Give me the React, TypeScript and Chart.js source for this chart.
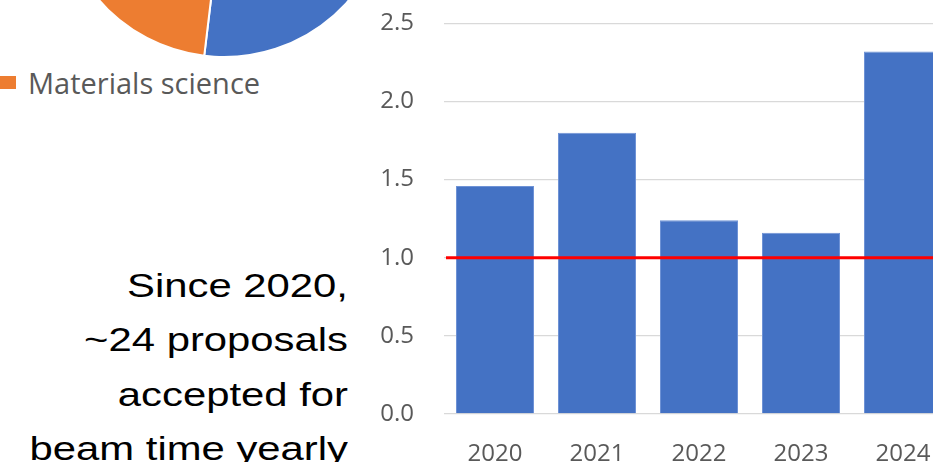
import React, { useEffect, useRef } from "react";
import { Chart, registerables } from "chart.js";

Chart.register(...registerables);

// ---- data ----
const years = ["2020", "2021", "2022", "2023", "2024"];
const ratioValues = [1.46, 1.8, 1.24, 1.16, 2.32];
const thresholdValue = 1.0;
const yMin = 0;
const yMax = 2.5;
const yStep = 0.5;

const pieLabels = ["Other", "Materials science"];
const pieShares = [51.9, 48.1];
const pieColors = ["#4472C4", "#ED7D31"];

const legendLabel = "Materials science";
const noteLines = ["Since 2020,", "~24 proposals", "accepted for", "beam time yearly"];

const thresholdPlugin = {
  id: "thresholdLine",
  afterDatasetsDraw(chart: any) {
    const { ctx, chartArea, scales } = chart;
    const y = scales.y.getPixelForValue(thresholdValue);
    ctx.save();
    ctx.strokeStyle = "#FF0000";
    ctx.lineWidth = 3;
    ctx.beginPath();
    ctx.moveTo(chartArea.left + 2, y);
    ctx.lineTo(chartArea.right, y);
    ctx.stroke();
    ctx.restore();
  },
};

export default function App() {
  const barRef = useRef<HTMLCanvasElement>(null);
  const pieRef = useRef<HTMLCanvasElement>(null);

  useEffect(() => {
    const bar = new Chart(barRef.current!, {
      type: "bar",
      data: {
        labels: years,
        datasets: [
          {
            data: ratioValues,
            backgroundColor: "#4472C4",
            borderColor: "#6F93D6",
            borderWidth: 1,
            categoryPercentage: 1,
            barPercentage: 0.765,
          },
        ],
      },
      options: {
        responsive: false,
        animation: false,
        layout: { padding: { top: 0, right: 106, left: 0, bottom: 0 } },
        plugins: { legend: { display: false }, tooltip: { enabled: false } },
        scales: {
          x: {
            grid: { display: false, drawTicks: false },
            border: { display: false },
            ticks: {
              color: "#595959",
              font: { family: "'Open Sans'", size: 24 },
              padding: 26,
              maxRotation: 0,
              autoSkip: false,
            },
            afterFit(scale: any) {
              scale.height = 86;
            },
          },
          y: {
            min: yMin,
            max: yMax,
            grid: { color: "#D9D9D9", lineWidth: 1.3, drawTicks: false },
            border: { display: false },
            ticks: {
              stepSize: yStep,
              color: "#595959",
              font: { family: "'Open Sans'", size: 24 },
              padding: 30,
              callback: (v: any) => Number(v).toFixed(1),
            },
            afterFit(scale: any) {
              scale.width = 84;
            },
          },
        },
      },
      plugins: [thresholdPlugin],
    });

    const pie = new Chart(pieRef.current!, {
      type: "pie",
      data: {
        labels: pieLabels,
        datasets: [
          {
            data: pieShares,
            backgroundColor: pieColors,
            borderColor: "#FFFFFF",
            borderWidth: 2,
          },
        ],
      },
      options: {
        responsive: false,
        animation: false,
        radius: 166,
        layout: { padding: 0 },
        plugins: { legend: { display: false }, tooltip: { enabled: false } },
      } as any,
    });

    return () => {
      bar.destroy();
      pie.destroy();
    };
  }, []);

  return (
    <div
      style={{
        position: "fixed",
        left: 0,
        top: 0,
        width: 933,
        height: 462,
        overflow: "hidden",
        background: "#FFFFFF",
      }}
    >
      <canvas
        ref={pieRef}
        width={340}
        height={340}
        style={{ position: "absolute", left: 53.5, top: -279, width: 340, height: 340 }}
      />
      <div
        style={{
          position: "absolute",
          left: 0,
          top: 76,
          width: 16,
          height: 13,
          background: "#ED7D31",
        }}
      />
      <div
        style={{
          position: "absolute",
          left: 28,
          top: 63,
          fontFamily: "'Open Sans'",
          fontSize: 29,
          lineHeight: "normal",
          color: "#595959",
          whiteSpace: "nowrap",
        }}
      >
        {legendLabel}
      </div>
      <div
        style={{
          position: "absolute",
          left: 0,
          top: 257.7,
          width: 348,
          textAlign: "right",
          fontFamily: "'Liberation Sans', Arial, sans-serif",
          fontSize: 34,
          lineHeight: "54.4px",
          color: "#000000",
          transform: "scaleX(1.23)",
          transformOrigin: "right top",
          whiteSpace: "nowrap",
        }}
      >
        {noteLines.map((l, i) => (
          <div key={i}>{l}</div>
        ))}
      </div>
      <canvas
        ref={barRef}
        width={700}
        height={521}
        style={{ position: "absolute", left: 360, top: -21.1, width: 700, height: 521 }}
      />
    </div>
  );
}
